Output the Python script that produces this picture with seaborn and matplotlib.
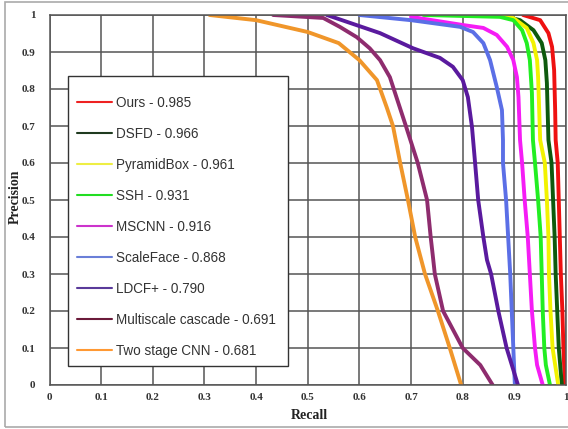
import matplotlib
matplotlib.use("Agg")
import matplotlib.pyplot as plt
import matplotlib.patches as mpatches
from matplotlib.lines import Line2D
import seaborn as sns
import pandas as pd

# ---- data ----
labels = ["Ours - 0.985", "DSFD - 0.966", "PyramidBox - 0.961", "SSH - 0.931",
          "MSCNN - 0.916", "ScaleFace - 0.868", "LDCF+ - 0.790",
          "Multiscale cascade - 0.691", "Two stage CNN - 0.681"]

ours_r = [0.917, 0.95, 0.966, 0.973, 0.977, 0.979, 0.980, 0.984, 0.986, 0.988, 0.990, 0.993, 0.995, 0.998]
ours_p = [1.0, 0.986, 0.951, 0.914, 0.851, 0.743, 0.662, 0.6, 0.5, 0.4, 0.3, 0.2, 0.1, 0.0]

dsfd_r = [0.872, 0.911, 0.937, 0.953, 0.960, 0.963, 0.966, 0.972, 0.975, 0.978, 0.980, 0.983, 0.986, 0.992]
dsfd_p = [1.0, 0.986, 0.959, 0.924, 0.878, 0.816, 0.662, 0.6, 0.5, 0.4, 0.3, 0.2, 0.1, 0.0]

pyr_r = [0.853, 0.898, 0.924, 0.937, 0.944, 0.946, 0.950, 0.959, 0.963, 0.966, 0.967, 0.970, 0.974, 0.985]
pyr_p = [1.0, 0.992, 0.965, 0.924, 0.878, 0.832, 0.662, 0.6, 0.5, 0.4, 0.3, 0.2, 0.1, 0.0]

ssh_r = [0.724, 0.872, 0.898, 0.915, 0.924, 0.930, 0.934, 0.936, 0.940, 0.946, 0.951, 0.953, 0.955, 0.958, 0.961, 0.969]
ssh_p = [1.0, 0.995, 0.986, 0.959, 0.924, 0.878, 0.789, 0.662, 0.6, 0.5, 0.4, 0.3, 0.2, 0.1, 0.054, 0.0]

mscnn_r = [0.70, 0.80, 0.84, 0.866, 0.886, 0.898, 0.905, 0.908, 0.911, 0.915, 0.920, 0.926, 0.930, 0.934, 0.940, 0.944, 0.955]
mscnn_p = [0.995, 0.973, 0.965, 0.946, 0.914, 0.878, 0.832, 0.778, 0.662, 0.6, 0.5, 0.4, 0.3, 0.2, 0.1, 0.054, 0.0]

scale_r = [0.60, 0.70, 0.795, 0.82, 0.84, 0.853, 0.866, 0.876, 0.878, 0.878, 0.884, 0.888, 0.892, 0.895, 0.898, 0.901]
scale_p = [1.0, 0.986, 0.968, 0.954, 0.924, 0.878, 0.805, 0.743, 0.662, 0.6, 0.5, 0.4, 0.3, 0.2, 0.1, 0.0]

ldcf_r = [0.537, 0.64, 0.704, 0.756, 0.781, 0.80, 0.81, 0.818, 0.824, 0.830, 0.840, 0.847, 0.855, 0.869, 0.885, 0.907]
ldcf_p = [1.0, 0.951, 0.91, 0.884, 0.86, 0.824, 0.778, 0.697, 0.6, 0.5, 0.4, 0.338, 0.3, 0.2, 0.1, 0.0]

multi_r = [0.433, 0.53, 0.562, 0.595, 0.62, 0.64, 0.659, 0.690, 0.713, 0.731, 0.738, 0.742, 0.746, 0.762, 0.80, 0.834, 0.858]
multi_p = [1.0, 0.992, 0.968, 0.94, 0.91, 0.878, 0.832, 0.70, 0.6, 0.5, 0.4, 0.351, 0.3, 0.2, 0.1, 0.054, 0.0]

two_r = [0.31, 0.40, 0.50, 0.56, 0.60, 0.634, 0.653, 0.665, 0.679, 0.694, 0.708, 0.727, 0.752, 0.775, 0.797]
two_p = [1.0, 0.986, 0.954, 0.924, 0.878, 0.824, 0.75, 0.70, 0.6, 0.5, 0.4, 0.3, 0.2, 0.1, 0.0]

recalls = [ours_r, dsfd_r, pyr_r, ssh_r, mscnn_r, scale_r, ldcf_r, multi_r, two_r]
precisions = [ours_p, dsfd_p, pyr_p, ssh_p, mscnn_p, scale_p, ldcf_p, multi_p, two_p]

tick_vals = [0, 0.1, 0.2, 0.3, 0.4, 0.5, 0.6, 0.7, 0.8, 0.9, 1]
tick_labels = ["0", "0.1", "0.2", "0.3", "0.4", "0.5", "0.6", "0.7", "0.8", "0.9", "1"]

# ---- styling ----
line_colors = ["#ee1111", "#0e5a0e", "#f2f200", "#22ee22", "#f51cf5",
               "#5b6fe6", "#5a1a9e", "#8e2c6e", "#f0962a"]
legend_colors = ["#ee2222", "#1f3a1f", "#eeee44", "#22dd22", "#cc33cc",
                 "#6a7fd8", "#5a3a9a", "#6b1a3a", "#ff9933"]

rows = []
for lab, rr, pp in zip(labels, recalls, precisions):
    for i, (r, p) in enumerate(zip(rr, pp)):
        rows.append({"method": lab, "order": i, "Recall": r, "Precision": p})
df = pd.DataFrame(rows)

sns.set_theme(style="white")
plt.rcParams["font.family"] = ["Liberation Sans", "DejaVu Sans"]

fig = plt.figure(figsize=(5.68, 4.29), dpi=100)
ax = fig.add_axes([49.5 / 568, 44 / 429, 516.5 / 568, 370 / 429])

sns.lineplot(data=df, x="Recall", y="Precision", hue="method", hue_order=labels,
             palette=dict(zip(labels, line_colors)), sort=False, estimator=None,
             linewidth=2.8, legend=False, ax=ax)

ax.set_xlim(0, 1)
ax.set_ylim(0, 1)
ax.set_xticks(tick_vals)
ax.set_xticklabels(tick_labels)
ax.set_yticks(tick_vals)
ax.set_yticklabels(tick_labels)
ax.grid(True, color="#555555", linewidth=1.1)
ax.set_axisbelow(True)
for s in ax.spines.values():
    s.set_color("#555555")
    s.set_linewidth(1.1)
ax.tick_params(axis="both", length=0, labelsize=8, labelcolor="#333333")
ax.tick_params(axis="y", pad=10)
ax.tick_params(axis="x", pad=6)
for t in ax.get_xticklabels() + ax.get_yticklabels():
    t.set_family("Liberation Serif")
    t.set_fontweight("bold")

ax.set_xlabel("Recall", family="Liberation Serif", fontweight="bold", fontsize=10, color="#222222")
ax.set_ylabel("Precision", family="Liberation Serif", fontweight="bold", fontsize=10, color="#222222")
ax.xaxis.set_label_coords(0.504, -0.066)
ax.yaxis.set_label_coords(-0.054, 0.51)

# legend box drawn as a plain rectangle, entries placed inside it
box = mpatches.Rectangle((18.5 / 516.5, 19 / 370), 220 / 516.5, 290 / 370,
                         transform=ax.transAxes, facecolor="white",
                         edgecolor="#333333", linewidth=1.0, zorder=4)
ax.add_patch(box)

handles = [Line2D([0], [0], color=c, lw=1.5) for c in legend_colors]
leg = ax.legend(handles, labels, loc="upper left", bbox_to_anchor=(0.035, 0.808),
                borderaxespad=0, fontsize=9.75, frameon=False,
                handlelength=2.6, handletextpad=0.3, labelspacing=1.26, borderpad=0.7)
leg.set_zorder(5)
for t in leg.get_texts():
    t.set_color("#333333")

fig.patches.append(mpatches.Rectangle((5 / 568, 2 / 429), 1.0, (425) / 429,
                                      transform=fig.transFigure, fill=False,
                                      edgecolor="#aaaaaa", linewidth=1.2))

fig.savefig("out.png", dpi=100)
